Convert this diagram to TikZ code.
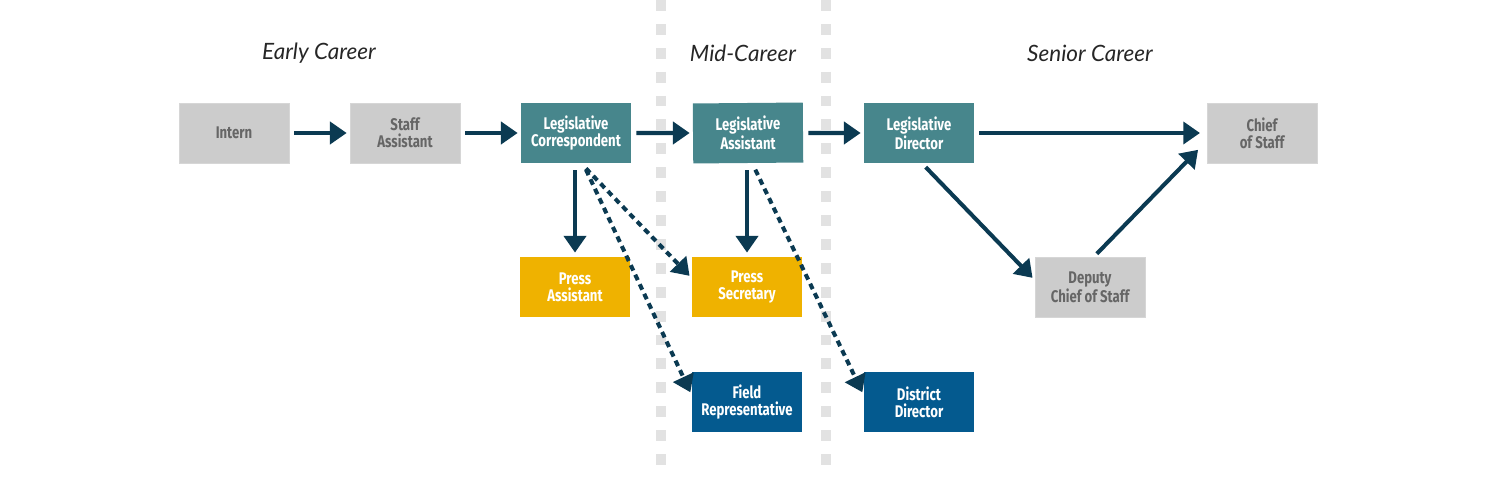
\documentclass[tikz,border=0pt]{standalone}
\usepackage{fontspec}
\usepackage{tikz}
\usetikzlibrary{positioning, calc, arrows.meta}

\newfontfamily\boxfont[FakeStretch=0.78]{Fira Sans}
\newfontfamily\headfont{Lato}

\definecolor{boxgray}{HTML}{CCCCCC}
\definecolor{txtgray}{HTML}{666666}
\definecolor{teal}{HTML}{47868C}
\definecolor{gold}{HTML}{EFB200}
\definecolor{navy}{HTML}{045A8F}
\definecolor{arrowcol}{HTML}{0B3A52}
\definecolor{divgray}{HTML}{E2E2E2}

\tikzset{
    role/.style={minimum width=2.2cm, minimum height=1.2cm, align=center,
        font=\boxfont\bfseries\fontsize{9.6}{9.6}\selectfont, inner sep=0pt},
    entry/.style={role, fill=boxgray, draw=boxgray!80!white, line width=0.4pt, text=txtgray},
    core/.style={role, fill=teal, text=white},
    press/.style={role, fill=gold, text=white},
    field/.style={role, fill=navy, text=white},
    stage/.style={font=\headfont\itshape\fontsize{12.8}{14}\selectfont, text=black!85},
    flow/.style={draw=arrowcol, line width=2.3pt,
        -{Triangle[length=9.5pt, width=12.5pt]},
        shorten <=2.8pt, shorten >=1.7pt},
    maybe/.style={flow, dash pattern=on 3.4pt off 2.6pt},
    divider/.style={draw=divgray, line width=5.7pt, dash pattern=on 6.2pt off 7.4pt}
}

\begin{document}
\begin{tikzpicture}
    \useasboundingbox (0,0) rectangle (30,-10);

    \draw[divider] (13.22,0) -- (13.22,-9.32);
    \draw[divider] (16.52,0) -- (16.52,-9.32);

    \node[stage] (early) at (6.38,-1.06) {Early Career};
    \node[stage] (mid) at (14.86,-1.06) {Mid-Career};
    \node[stage] (senior) at (21.80,-1.06) {Senior Career};

    \node[entry] (intern) at (4.68,-2.66) {Intern};
    \node[entry] (staff) at (8.10,-2.66) {Staff\\Assistant};
    \node[core] (lcorr) at (11.52,-2.66) {Legislative\\Correspondent};
    \node[core, rotate=0.5] (lasst) at (14.96,-2.66) {Legislative\\Assistant};
    \node[core] (ldir) at (18.38,-2.66) {Legislative\\Director};
    \node[entry] (chief) at (25.24,-2.66) {Chief\\of Staff};

    \node[press] (pressa) at (11.50,-5.74) {Press\\Assistant};
    \node[press] (presss) at (14.94,-5.74) {Press\\Secretary};
    \node[entry] (deputy) at (21.80,-5.74) {Deputy\\Chief of Staff};

    \node[field] (fieldrep) at (14.94,-8.04) {Field\\Representative};
    \node[field] (district) at (18.38,-8.04) {District\\Director};

    \draw[flow] (intern) -- (staff);
    \draw[flow] (staff) -- (lcorr);
    \draw[flow] (lcorr) -- (lasst);
    \draw[flow] (lasst) -- (ldir);
    \draw[flow, shorten >=3.8pt] (ldir) -- (chief);

    \draw[flow, shorten <=4pt, shorten >=2.3pt] (lcorr.south -| pressa) -- (pressa);
    \draw[flow, shorten <=4pt, shorten >=2.3pt] (lasst.south -| presss) -- (presss);

    \draw[maybe, shorten <=4pt] ([xshift=0.1cm]lcorr.south) -- ([yshift=0.18cm]presss.west);
    \draw[maybe, shorten <=4pt] ([xshift=0.14cm]lcorr.south) -- ([yshift=0.14cm]fieldrep.west);
    \draw[maybe, shorten <=4pt] ([xshift=0.08cm]lasst.south) -- ([yshift=0.14cm]district.west);

    \draw[flow, shorten <=3pt] ([xshift=0.06cm]ldir.south) -- ([yshift=0.14cm]deputy.west);
    \draw[flow, shorten <=2.3pt, shorten >=7pt] ([xshift=0.08cm]deputy.north) -- ([yshift=-0.16cm]chief.west);
\end{tikzpicture}
\end{document}
